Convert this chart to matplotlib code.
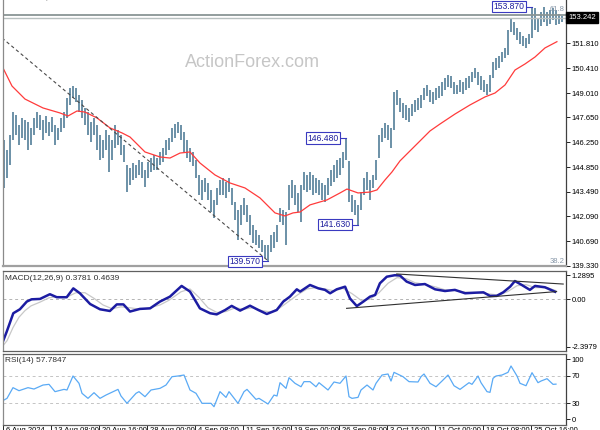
import matplotlib
matplotlib.use("Agg")
import matplotlib.pyplot as plt
import matplotlib.transforms as mtransforms

plt.rcParams['font.family'] = ['Liberation Sans', 'DejaVu Sans']

highs = [
    146.38, 145.82, 146.66, 147.95, 147.79, 147.22, 147.62, 147.51, 147.39, 147.06,
    147.62, 147.95, 147.79, 147.51, 147.73, 147.39, 147.67, 147.22, 147.06, 147.62,
    147.95, 148.74, 149.30, 149.41, 149.30, 148.91, 148.63, 148.18, 147.95, 147.39,
    147.62, 147.22, 146.66, 146.38, 146.94, 146.66, 146.38, 147.22, 146.94, 146.66,
    146.10, 144.98, 144.81, 145.09, 144.98, 145.26, 145.15, 144.70, 145.15, 145.37,
    145.54, 145.37, 145.71, 145.93, 146.38, 146.50, 147.06, 147.28, 147.39, 147.22,
    146.83, 146.38, 145.93, 145.71, 145.26, 144.42, 144.14, 144.25, 143.97, 143.58,
    143.02, 143.69, 144.14, 144.25, 144.03, 144.25, 143.69, 142.90, 142.45, 142.74,
    143.13, 142.74, 142.17, 141.61, 141.33, 141.05, 140.77, 140.49, 140.49, 141.05,
    141.22, 141.61, 142.57, 142.45, 142.34, 143.86, 144.14, 143.86, 143.41, 143.86,
    144.59, 144.42, 144.59, 144.42, 144.25, 144.14, 143.97, 143.86, 144.25, 144.70,
    144.98, 145.26, 145.37, 145.71, 146.48, 145.20, 143.30, 143.02, 142.74, 143.46,
    144.25, 144.59, 144.14, 144.42, 145.26, 146.66, 147.06, 147.34, 147.22, 147.06,
    149.08, 149.19, 148.74, 148.46, 148.35, 148.18, 148.40, 148.63, 148.74, 148.91,
    149.30, 149.47, 149.19, 149.08, 149.30, 149.41, 149.64, 149.86, 150.03, 149.98,
    149.64, 149.47, 149.75, 149.64, 149.86, 149.98, 150.20, 150.42, 150.20, 149.98,
    149.75, 149.53, 150.03, 150.76, 150.99, 151.10, 151.32, 151.55, 152.56, 153.23,
    153.01, 152.67, 152.44, 152.22, 152.11, 152.33, 153.87, 153.79, 153.23, 153.57,
    153.86, 153.57, 153.68, 153.79, 153.68, 153.45, 153.37,
]
lows = [
    143.69, 144.25, 144.98, 146.38, 146.66, 146.10, 146.50, 146.38, 145.82, 146.10,
    146.66, 147.06, 146.94, 146.38, 146.78, 146.61, 146.83, 146.10, 146.38, 146.83,
    147.06, 147.62, 148.35, 148.74, 148.52, 147.95, 147.62, 147.22, 146.66, 146.27,
    146.66, 145.82, 145.26, 145.37, 145.82, 144.59, 145.26, 145.93, 146.10, 145.54,
    145.15, 143.46, 143.86, 144.14, 144.25, 144.42, 144.25, 143.75, 144.25, 144.59,
    144.70, 144.70, 144.98, 145.15, 145.54, 145.82, 146.27, 146.50, 146.78, 146.38,
    145.71, 145.37, 145.15, 144.92, 144.25, 143.30, 143.02, 143.46, 143.02, 142.34,
    142.01, 142.74, 143.30, 143.30, 143.13, 143.46, 142.74, 141.89, 140.77, 141.61,
    142.17, 141.78, 141.05, 140.60, 140.49, 140.32, 140.10, 139.76, 139.57, 140.10,
    140.32, 140.66, 141.78, 141.61, 140.49, 142.45, 143.13, 142.74, 142.34, 141.78,
    143.58, 143.46, 143.58, 143.30, 143.41, 143.30, 143.02, 142.90, 143.30, 143.80,
    144.03, 144.25, 144.42, 144.81, 145.26, 142.90, 142.34, 142.17, 141.63, 142.45,
    143.30, 143.58, 143.02, 143.69, 144.14, 145.37, 146.27, 146.50, 146.38, 145.93,
    146.94, 148.35, 147.95, 147.62, 147.51, 147.39, 147.73, 147.95, 148.07, 148.18,
    148.63, 148.85, 148.52, 148.40, 148.63, 148.74, 148.85, 149.19, 149.36, 149.30,
    148.96, 148.96, 149.08, 148.96, 149.19, 149.30, 149.64, 149.86, 149.47, 149.19,
    149.08, 148.91, 149.08, 149.86, 150.31, 150.42, 150.76, 150.99, 151.15, 152.44,
    152.28, 152.00, 151.77, 151.66, 151.55, 151.77, 152.11, 152.56, 152.44, 152.78,
    153.01, 152.78, 152.89, 153.12, 152.84, 152.89, 153.01,
]

# moving average (red)
ma_x = [-0.67, 2.67, 7, 13, 18.67, 21.33, 24.33, 27, 31, 35.33, 39.33, 42, 47, 52,
        55.33, 58.67, 62, 65.33, 70.33, 75.33, 80.33, 85.33, 90.33, 93.67, 96.33,
        98.67, 102, 107.67, 112, 114.33, 118, 122, 124.33, 127, 129.33, 132, 135.33,
        138.67, 142, 145.33, 150.33, 155.33, 160.33, 163.67, 167, 170.33, 173.67,
        177, 180.33, 184.3]
ma_y = [150.54, 149.41, 148.68, 148.18, 147.90, 147.73, 148.01, 147.95, 147.62,
        147.06, 146.78, 146.55, 145.71, 145.43, 145.37, 145.65, 145.71, 145.09,
        144.42, 143.97, 143.69, 143.13, 142.29, 142.12, 142.29, 142.34, 142.74,
        143.02, 143.41, 143.63, 143.41, 143.46, 143.58, 144.14, 144.59, 145.21,
        145.77, 146.33, 146.89, 147.28, 147.84, 148.35, 148.80, 149.02, 149.47,
        150.31, 150.65, 151.04, 151.55, 151.90]

# MACD(12,26,9)
macd_x = [-0.8, 0.9, 3.1, 5.3, 7.6, 9.2, 12, 15.3, 17.6, 20.9, 23.1, 25.3, 28.7, 32,
          35.3, 37.6, 39.8, 42, 45.3, 48.7, 52, 55.3, 59.2, 62, 65.3, 68.7, 70.9,
          73.7, 75.9, 78.7, 82, 84.8, 87.6, 90.9, 93.1, 95.3, 97.6, 98.7, 102, 104.8,
          107, 108.7, 110.9, 113.7, 115.3, 117.6, 119.8, 122, 123.7, 125.3, 127.6,
          130.3, 132, 134.2, 137, 140.3, 143.7, 147, 150.3, 153.7, 157, 159.8, 162,
          164.2, 166.4, 168.7, 170.3, 172.6, 175.3, 177, 180.3, 183.7]
macd_v = [-2.42, -1.72, -0.74, -0.53, -0.12, 0.0, 0.02, 0.27, 0.11, 0.11, 0.58, 0.32,
          -0.25, -0.53, -0.62, -0.27, -0.27, -0.65, -0.51, -0.48, -0.12, 0.14, 0.71,
          0.41, -0.48, -0.74, -0.80, -0.57, -0.35, -0.60, -0.34, -0.57, -0.78, -0.57,
          -0.12, 0.14, 0.53, 0.41, 0.76, 0.58, 0.50, 0.32, 0.53, 0.67, 0.05, -0.36,
          -0.12, 0.14, 0.23, 0.85, 1.20, 1.28, 1.26, 0.94, 0.76, 0.81, 0.53, 0.44,
          0.50, 0.32, 0.35, 0.37, 0.18, 0.18, 0.37, 0.67, 0.97, 0.76, 0.50, 0.71,
          0.64, 0.40]
sig_x = [-0.8, 1, 3, 5, 7, 9, 12, 15, 18, 21, 24, 27, 30, 33, 36, 39, 42, 45, 48, 52,
         55, 59, 62, 65, 68, 71, 74, 77, 80, 83, 86, 89, 92, 95, 98, 101, 104, 107,
         110, 113, 116, 119, 122, 125, 128, 131, 134, 137, 140, 144, 147, 150, 154,
         158, 162, 165, 168, 171, 174, 177, 181, 184]
sig_v = [-2.55, -2.2, -1.5, -0.95, -0.6, -0.35, -0.15, 0.08, 0.15, 0.12, 0.35, 0.35,
         0.05, -0.3, -0.5, -0.4, -0.45, -0.52, -0.48, -0.3, -0.05, 0.4, 0.55, 0.1,
         -0.45, -0.7, -0.65, -0.45, -0.52, -0.45, -0.6, -0.68, -0.45, -0.1, 0.25,
         0.55, 0.62, 0.55, 0.45, 0.58, 0.3, -0.05, 0.0, 0.35, 0.85, 1.15, 1.1, 0.88,
         0.8, 0.65, 0.5, 0.47, 0.38, 0.35, 0.28, 0.22, 0.42, 0.72, 0.78, 0.62, 0.62,
         0.46]

# RSI(14)
rsi_x = [0, 1, 3, 5, 8, 10, 13, 15, 17, 20, 21, 23, 25, 26, 28, 30, 32, 34, 38, 39,
         41, 44, 45, 47, 49, 52, 54, 56, 58, 60, 62, 64, 66, 69, 70, 72, 74, 75, 78,
         80, 81, 84, 85, 88, 90, 91, 92, 94, 95, 97, 99, 100, 102, 104, 105, 108,
         110, 112, 114, 115, 116, 118, 119, 121, 123, 124, 126, 128, 129, 130, 133,
         135, 138, 139, 140, 142, 144, 146, 148, 150, 152, 155, 156, 158, 159, 161,
         162, 163, 164, 166, 168, 169, 171, 172, 174, 176, 178, 179, 181, 183, 184]
rsi_v = [34.8, 37.2, 52.7, 48.3, 52.7, 50.7, 56.5, 57.5, 46.9, 50.2, 49.3, 69.6, 59,
         44.5, 37.2, 45.4, 37.2, 42, 50.2, 40.6, 30, 44.5, 46.9, 39.6, 49.3, 51.7,
         56.5, 68.6, 69.6, 71, 49.3, 44.5, 30, 30, 25.1, 46.9, 38.6, 46.9, 30, 46.9,
         50.2, 35.7, 37.2, 29, 42, 40.6, 59.9, 51.7, 67.1, 59, 54, 61.4, 61.4, 54,
         59.9, 49.3, 60.9, 59, 69.6, 39.6, 37.2, 38.6, 49.3, 56.5, 49.3, 59, 71,
         72.5, 62.3, 74.9, 68.6, 61.4, 60.9, 68.6, 72.5, 59, 54, 62.3, 71, 55.5,
         50.2, 59.9, 57.5, 69.6, 59.9, 46.9, 45.9, 66.2, 69.6, 71, 74.9, 84.1, 69.6,
         59, 55.5, 74.4, 59.9, 62.3, 65.7, 57.5, 57.8]

# drawn objects
trend_x, trend_y = [-0.67, 87.67], [152.11, 139.65]
macd_up_x, macd_up_y = [130.9, 186.4], [1.345, 0.81]
macd_lo_x, macd_lo_y = [114.2, 184.2], [-0.48, 0.41]
swing_idx = [176, 114, 118, 88]
swing_val = [153.870, 146.480, 141.630, 139.570]

price_ticks = [151.81, 150.41, 149.01, 147.65, 146.25, 144.85, 143.49, 142.09, 140.69, 139.33]
date_labels = ["6 Aug 2024", "13 Aug 08:00", "20 Aug 16:00", "28 Aug 00:00", "4 Sep 08:00",
               "11 Sep 16:00", "19 Sep 00:00", "26 Sep 08:00", "3 Oct 16:00",
               "11 Oct 00:00", "18 Oct 08:00", "25 Oct 16:00"]
date_pos = [-0.5 + 16 * k for k in range(len(date_labels))]

W, H = 600, 430
fig = plt.figure(figsize=(6, 4.3), dpi=100)


def box(top, bottom, left=2.5, right=566):
    return [left / W, 1 - bottom / H, (right - left) / W, (bottom - top) / H]


ax = fig.add_axes(box(0, 266))
axm = fig.add_axes(box(270.5, 350.5), sharex=ax)
axr = fig.add_axes(box(353.5, 424.5), sharex=ax)

FS = 5.5
for a in (ax, axm, axr):
    a.set_facecolor('white')
    a.spines['top'].set_color('#606060')
    a.spines['left'].set_color('#8a8a8a')
    a.spines['right'].set_color('#404040')
    a.spines['bottom'].set_color('#606060')
    for s in a.spines.values():
        s.set_linewidth(0.9)
    a.yaxis.tick_right()
    a.tick_params(axis='y', direction='out', length=3, width=0.6, pad=1.2,
                  labelsize=FS, colors='black')
    a.tick_params(axis='x', length=0, labelbottom=False)
ax.spines['top'].set_visible(False)
ax.spines['bottom'].set_color('#a0a0a0')
ax.spines['bottom'].set_linewidth(1.6)

# main price panel
n = len(highs)
ax.vlines(range(n), lows, highs, color='#5a839c', lw=1.25)
ax.plot(ma_x, ma_y, color='#ff3b3b', lw=0.9)
ax.plot(trend_x, trend_y, color='#4a4a4a', lw=0.8, ls=(0, (3, 2.5)))
ax.axhline(153.415, color='#8a9595', lw=1.3)
ax.axhline(153.242, color='#b8c0c0', lw=1.0)
ax.set_xlim(-0.5, 187.33)
ax.set_ylim(139.31, 154.24)
ax.set_yticks(price_ticks)
ax.set_yticklabels(['%.3f' % p for p in price_ticks])

tr = mtransforms.blended_transform_factory(ax.transAxes, ax.transData)
ax.text(1.004, 153.242, '153.242', transform=tr, ha='left', va='center', fontsize=FS,
        color='white', bbox=dict(boxstyle='square,pad=0.25', fc='black', ec='black'))

ax.text(82.7, 150.76, 'ActionForex.com', fontsize=13, color='#c6c6c6',
        ha='center', va='center')
ax.text(184.3, 153.68, '61.8', fontsize=5.5, color='#8797a8', ha='center', va='center')
ax.text(184.3, 139.55, '38.2', fontsize=5.5, color='#8797a8', ha='center', va='center')

for i, v in zip(swing_idx, swing_val):
    ax.plot([i - 2.3, i], [v, v], color='#3a3ac0', lw=0.8)
    ax.text(i - 7.6, v, '%.3f' % v, ha='center', va='center', fontsize=6.2,
            color='#1e1e9e',
            bbox=dict(boxstyle='square,pad=0.15', fc='white', ec='#3a3ac0', lw=0.8))

fig.text(14 / W, 1 + 2 / H, 'USDJPY,H4  153.196 153.370 153.141 153.242',
         fontsize=6, color='#505050', va='center', ha='left')

# MACD panel
axm.axhline(0, color='#b4b4b4', lw=0.7, ls=(0, (3, 3)))
axm.plot(sig_x, sig_v, color='#c8c8c8', lw=0.9)
axm.plot(macd_x, macd_v, color='#1c1ca2', lw=1.8)
axm.plot(macd_up_x, macd_up_y, color='#303030', lw=0.8)
axm.plot(macd_lo_x, macd_lo_y, color='#303030', lw=0.8)
axm.set_ylim(-2.718, 1.529)
axm.set_yticks([1.2895, 0, -2.53])
axm.set_yticklabels(['1.2895', '0.00', '-2.3979'])
axm.text(0.005, 0.95, 'MACD(12,26,9) 0.3781 0.4639', transform=axm.transAxes,
         fontsize=6, color='#303030', va='top', ha='left')

# RSI panel
for lvl in (70, 30):
    axr.axhline(lvl, color='#c4c4c4', lw=0.7, ls=(0, (3, 3)))
axr.plot(rsi_x, rsi_v, color='#5aaaf5', lw=0.9)
axr.set_ylim(-0.7, 102.2)
axr.set_yticks([94.2, 70, 30, 7.2])
axr.set_yticklabels(['100', '70', '30', '0'])
axr.text(0.005, 0.95, 'RSI(14) 57.7847', transform=axr.transAxes,
         fontsize=6, color='#303030', va='top', ha='left')

axr.set_xticks(date_pos)
axr.tick_params(axis='x', direction='out', length=4, width=0.6, colors='black',
                labelbottom=False)
for p, t in zip(date_pos, date_labels):
    xp = ax.transData.transform((p, 0))[0] / fig.dpi / fig.get_figwidth()
    fig.text(xp + 3 / W, 1 - 427.3 / H, t, fontsize=FS, color='black',
             ha='left', va='top')

fig.savefig('out.png', dpi=100, facecolor='white')
